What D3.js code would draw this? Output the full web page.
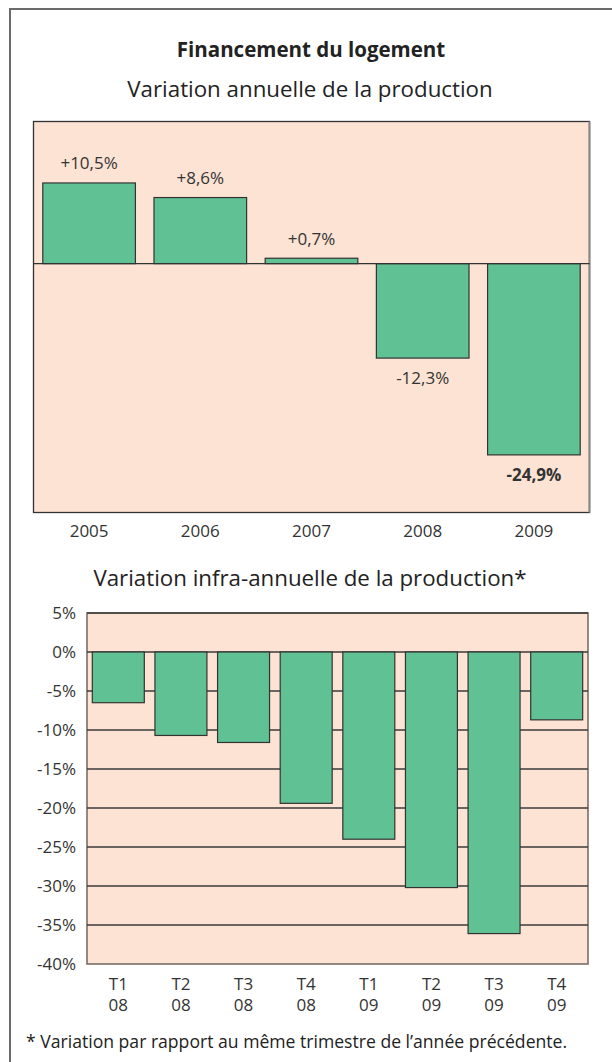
<!DOCTYPE html>
<html>
<head>
<meta charset="utf-8">
<script src="https://cdn.jsdelivr.net/npm/d3@7"></script>
<style>
  body { margin: 0; background: #fff; }
  svg text { font-family: "Open Sans", sans-serif; fill: #333; }
</style>
</head>
<body>
<div id="vis"></div>
<script>
// annual chart
const years = ["2005", "2006", "2007", "2008", "2009"];
const annualValues = [10.5, 8.6, 0.7, -12.3, -24.9];
const annualLabels = ["+10,5%", "+8,6%", "+0,7%", "-12,3%", "-24,9%"];

// quarterly chart
const quarters = ["T1", "T2", "T3", "T4", "T1", "T2", "T3", "T4"];
const quarterYears = ["08", "08", "08", "08", "09", "09", "09", "09"];
const quarterValues = [-6.5, -10.7, -11.6, -19.4, -24.0, -30.2, -36.1, -8.7];
const quarterTicks = [5, 0, -5, -10, -15, -20, -25, -30, -35, -40];

const FRAME_WIDTH = 612;
const FRAME_HEIGHT = 1062;
const BAR_COLOR = "#5fc194";
const PLOT_BG = "#fde3d3";

const svg = d3.select("#vis")
  .append("svg")
    .attr("width", FRAME_WIDTH)
    .attr("height", FRAME_HEIGHT);

// outer frame (open on right and bottom)
svg.append("rect")
  .attr("x", 10).attr("y", 9)
  .attr("width", 700).attr("height", 1200)
  .attr("fill", "none")
  .attr("stroke", "#6b6b6b")
  .attr("stroke-width", 2);

svg.append("text")
  .attr("x", 311).attr("y", 57)
  .attr("text-anchor", "middle")
  .attr("font-size", 20.5).attr("font-weight", "bold")
  .style("fill", "#222")
  .text("Financement du logement");

svg.append("text")
  .attr("x", 310).attr("y", 97)
  .attr("text-anchor", "middle")
  .attr("font-size", 22.3)
  .style("fill", "#222")
  .text("Variation annuelle de la production");

// ---------- top chart ----------
const TOP = {left: 33.5, right: 589.5, top: 121.5, bottom: 512.5};

const X1 = d3.scaleBand()
  .domain(years)
  .range([TOP.left, TOP.right])
  .paddingInner(0.167)
  .paddingOuter(0.0835);

const Y1 = d3.scaleLinear()
  .domain([-32.4, 18.5])
  .range([TOP.bottom, TOP.top]);

svg.append("rect")
  .attr("x", TOP.left).attr("y", TOP.top)
  .attr("width", TOP.right - TOP.left).attr("height", TOP.bottom - TOP.top)
  .attr("fill", PLOT_BG)
  .attr("stroke", "#333").attr("stroke-width", 1.3);

svg.append("line")
  .attr("x1", TOP.right).attr("x2", TOP.right)
  .attr("y1", TOP.top).attr("y2", TOP.bottom)
  .attr("stroke", "#888").attr("stroke-width", 2);

svg.selectAll(".bar1")
  .data(annualValues)
  .enter()
  .append("rect")
    .attr("class", "bar1")
    .attr("x", (d, i) => X1(years[i]))
    .attr("y", (d) => Y1(Math.max(0, d)))
    .attr("width", X1.bandwidth())
    .attr("height", (d) => Math.abs(Y1(d) - Y1(0)))
    .attr("fill", BAR_COLOR)
    .attr("stroke", "#333")
    .attr("stroke-width", 1.2);

svg.append("line")
  .attr("x1", TOP.left).attr("x2", TOP.right)
  .attr("y1", Y1(0)).attr("y2", Y1(0))
  .attr("stroke", "#333").attr("stroke-width", 1.4);

svg.selectAll(".lab1")
  .data(annualValues)
  .enter()
  .append("text")
    .attr("class", "lab1")
    .attr("x", (d, i) => X1(years[i]) + X1.bandwidth() / 2)
    .attr("y", (d) => d >= 0 ? Y1(d) - 13.5 : Y1(d) + 26)
    .attr("text-anchor", "middle")
    .attr("font-size", 17)
    .attr("font-weight", (d, i) => i === years.length - 1 ? "bold" : "normal")
    .text((d, i) => annualLabels[i]);

const xAxis1 = svg.append("g")
  .attr("transform", "translate(0," + TOP.bottom + ")")
  .call(d3.axisBottom(X1).tickSize(0).tickPadding(12));
xAxis1.select(".domain").remove();
xAxis1.selectAll("text")
  .attr("font-size", 17)
  .style("font-family", "Open Sans")
  .style("fill", "#333");

// ---------- bottom chart ----------
svg.append("text")
  .attr("x", 310).attr("y", 586)
  .attr("text-anchor", "middle")
  .attr("font-size", 22.3)
  .style("fill", "#222")
  .text("Variation infra-annuelle de la production*");

const BOT = {left: 87, right: 588, top: 613, bottom: 964};
const quarterKeys = quarters.map((q, i) => q + " " + quarterYears[i]);

const X2 = d3.scaleBand()
  .domain(quarterKeys)
  .range([BOT.left, BOT.right])
  .paddingInner(0.17)
  .paddingOuter(0.085);

const Y2 = d3.scaleLinear()
  .domain([-40, 5])
  .range([BOT.bottom, BOT.top]);

svg.append("rect")
  .attr("x", BOT.left).attr("y", BOT.top)
  .attr("width", BOT.right - BOT.left).attr("height", BOT.bottom - BOT.top)
  .attr("fill", PLOT_BG)
  .attr("stroke", "#7b6e66").attr("stroke-width", 1.6);

svg.selectAll(".grid")
  .data(quarterTicks.slice(0, -1))
  .enter()
  .append("line")
    .attr("class", "grid")
    .attr("x1", BOT.left).attr("x2", BOT.right)
    .attr("y1", (d) => Y2(d)).attr("y2", (d) => Y2(d))
    .attr("stroke", "#3a3a3a")
    .attr("stroke-width", 1.3);

svg.selectAll(".bar2")
  .data(quarterValues)
  .enter()
  .append("rect")
    .attr("class", "bar2")
    .attr("x", (d, i) => X2(quarterKeys[i]))
    .attr("y", Y2(0))
    .attr("width", X2.bandwidth())
    .attr("height", (d) => Y2(d) - Y2(0))
    .attr("fill", BAR_COLOR)
    .attr("stroke", "#333")
    .attr("stroke-width", 1.2);

const yAxis2 = svg.append("g")
  .attr("transform", "translate(" + BOT.left + ",0)")
  .call(d3.axisLeft(Y2).tickValues(quarterTicks).tickSize(0).tickPadding(11)
    .tickFormat((d) => d + "%"));
yAxis2.select(".domain").remove();
yAxis2.selectAll("text")
  .attr("font-size", 17)
  .style("font-family", "Open Sans")
  .style("fill", "#333");

const xAxis2 = svg.append("g")
  .attr("transform", "translate(0," + BOT.bottom + ")")
  .call(d3.axisBottom(X2).tickSize(0).tickPadding(14).tickFormat(""));
xAxis2.select(".domain").remove();
xAxis2.selectAll("text")
  .attr("font-size", 17)
  .style("font-family", "Open Sans")
  .style("fill", "#333")
  .each(function(d, i) {
    const t = d3.select(this);
    t.append("tspan").attr("x", 0).text(quarters[i]);
    t.append("tspan").attr("x", 0).attr("dy", "1.25em").text(quarterYears[i]);
  });

svg.append("text")
  .attr("x", 26).attr("y", 1048)
  .attr("font-size", 17.6)
  .style("fill", "#222")
  .text("*  Variation par rapport au même trimestre de l’année précédente.");
</script>
</body>
</html>
